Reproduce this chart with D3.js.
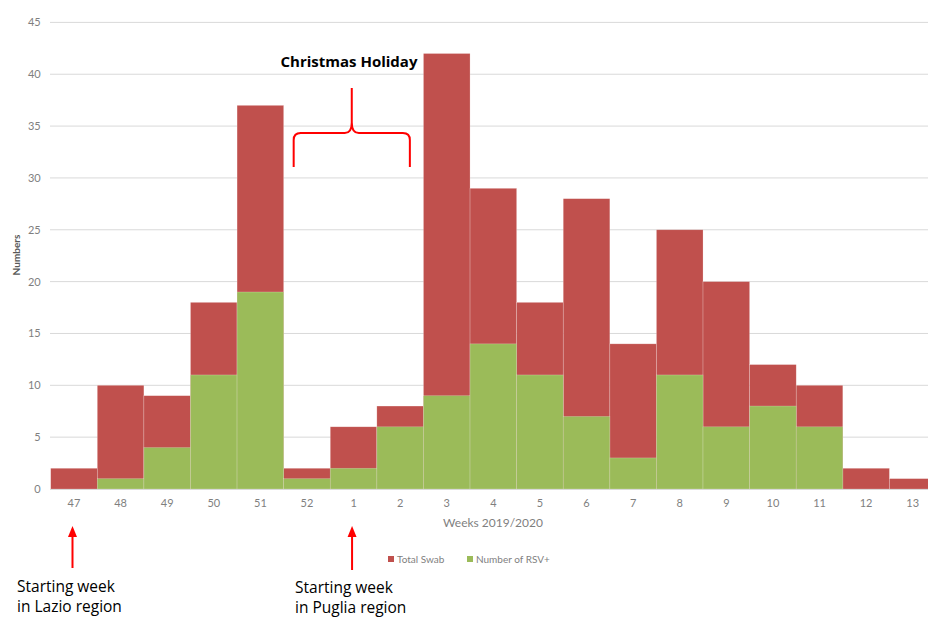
<!DOCTYPE html>
<html>
<head>
<meta charset="utf-8">
<script src="https://cdn.jsdelivr.net/npm/d3@7"></script>
<style>
  html, body { margin: 0; padding: 0; background: #fff; }
  svg { display: block; font-family: Lato, "Open Sans", sans-serif; }
</style>
</head>
<body>
<svg id="chart" width="928" height="617"></svg>
<script>
// Weekly swabs, season 2019/2020
const weeks = ["47", "48", "49", "50", "51", "52", "1", "2", "3", "4", "5", "6", "7", "8", "9", "10", "11", "12", "13"];
const totalSwab = [2, 10, 9, 18, 37, 2, 6, 8, 42, 29, 18, 28, 14, 25, 20, 12, 10, 2, 1];
const rsvPositive = [0, 1, 4, 11, 19, 1, 2, 6, 9, 14, 11, 7, 3, 11, 6, 8, 6, 0, 0];
const yTicks = [0, 5, 10, 15, 20, 25, 30, 35, 40, 45];
const seriesNames = ["Total Swab", "Number of RSV+"];

const colors = { total: "#C0504D", rsv: "#9BBB59" };

const svg = d3.select("#chart");
const plotLeft = 50.7, plotRight = 936, plotTop = 22.4, plotBottom = 489;

const x = d3.scaleBand().domain(weeks).range([plotLeft, plotRight]).padding(0);
const y = d3.scaleLinear().domain([0, 45]).range([plotBottom, plotTop]);

// gridlines
svg.append("g")
  .selectAll("line")
  .data(yTicks.filter(d => d > 0))
  .join("line")
  .attr("x1", 50).attr("x2", 928)
  .attr("y1", d => y(d)).attr("y2", d => y(d))
  .attr("stroke", "#d9d9d9").attr("stroke-width", 1);

// total swab bars
svg.append("g")
  .selectAll("rect")
  .data(weeks.map((w, i) => ({ w, v: totalSwab[i] })))
  .join("rect")
  .attr("x", d => x(d.w))
  .attr("width", x.bandwidth())
  .attr("y", d => y(d.v))
  .attr("height", d => y(0) - y(d.v))
  .attr("fill", colors.total)
  .attr("stroke", "#ffffff").attr("stroke-opacity", 0.35).attr("stroke-width", 0.6);

// RSV+ bars drawn over the totals
svg.append("g")
  .selectAll("rect")
  .data(weeks.map((w, i) => ({ w, v: rsvPositive[i] })).filter(d => d.v > 0))
  .join("rect")
  .attr("x", d => x(d.w))
  .attr("width", x.bandwidth())
  .attr("y", d => y(d.v))
  .attr("height", d => y(0) - y(d.v))
  .attr("fill", colors.rsv)
  .attr("stroke", "#ffffff").attr("stroke-opacity", 0.35).attr("stroke-width", 0.6);

// baseline
svg.append("line")
  .attr("x1", 50).attr("x2", 928)
  .attr("y1", y(0) + 0.5).attr("y2", y(0) + 0.5)
  .attr("stroke", "#d9d9d9").attr("stroke-width", 1);

// y axis
const yAxis = svg.append("g")
  .attr("transform", `translate(${plotLeft},0)`)
  .call(d3.axisLeft(y).tickValues(yTicks).tickSize(0).tickPadding(10));
yAxis.select(".domain").remove();
yAxis.selectAll("text")
  .attr("fill", "#7f7f7f").attr("font-size", 11).attr("font-family", "Lato, sans-serif");

// x axis
const xAxis = svg.append("g")
  .attr("transform", `translate(0,${plotBottom})`)
  .call(d3.axisBottom(x).tickSize(0).tickPadding(10));
xAxis.select(".domain").remove();
xAxis.selectAll("text")
  .attr("fill", "#7f7f7f").attr("font-size", 11).attr("font-family", "Lato, sans-serif");

// axis titles
svg.append("text")
  .attr("x", 493).attr("y", 527)
  .attr("text-anchor", "middle")
  .attr("fill", "#7f7f7f").attr("font-size", 12)
  .text("Weeks 2019/2020");

svg.append("text")
  .attr("transform", "translate(20,255) rotate(-90)")
  .attr("text-anchor", "middle")
  .attr("fill", "#595959").attr("font-size", 10).attr("font-weight", "bold")
  .text("Numbers");

// legend
const legend = svg.append("g").attr("font-size", 10).attr("fill", "#7f7f7f");
const legendItems = [
  { name: seriesNames[0], color: colors.total, x: 388 },
  { name: seriesNames[1], color: colors.rsv, x: 467 }
];
legendItems.forEach(d => {
  legend.append("rect").attr("x", d.x).attr("y", 556).attr("width", 6).attr("height", 6).attr("fill", d.color);
  legend.append("text").attr("x", d.x + 9).attr("y", 563).attr("fill", "#7f7f7f").text(d.name);
});

// Christmas holiday brace
const bx0 = x("52") + 10, bx1 = x("2") + 33, bmid = (bx0 + bx1) / 2;
const braceY = 133, braceBottom = 167, braceTip = 88, r = 7;
const brace = d3.path();
brace.moveTo(bx0, braceBottom);
brace.lineTo(bx0, braceY + r);
brace.quadraticCurveTo(bx0, braceY, bx0 + r, braceY);
brace.lineTo(bmid - r, braceY);
brace.quadraticCurveTo(bmid, braceY, bmid, braceY - r * 1.5);
brace.lineTo(bmid, braceTip);
brace.moveTo(bmid, braceY - r * 1.5);
brace.quadraticCurveTo(bmid, braceY, bmid + r, braceY);
brace.lineTo(bx1 - r, braceY);
brace.quadraticCurveTo(bx1, braceY, bx1, braceY + r);
brace.lineTo(bx1, braceBottom);
svg.append("path")
  .attr("d", brace.toString())
  .attr("fill", "none").attr("stroke", "#ff0000").attr("stroke-width", 2);

svg.append("text")
  .attr("x", 349).attr("y", 67)
  .attr("text-anchor", "middle")
  .attr("font-family", "'Open Sans', sans-serif")
  .attr("font-size", 15).attr("font-weight", "bold").attr("fill", "#000")
  .text("Christmas Holiday");

// starting-week arrows and notes
const notes = [
  { week: "47", lines: ["Starting week", "in Lazio region"], tx: 17, ty: 592, bottomY: 568 },
  { week: "1", lines: ["Starting week", "in Puglia region"], tx: 295, ty: 593, bottomY: 570 }
];
notes.forEach(n => {
  const cx = x(n.week) + x.bandwidth() / 2 - 1.5;
  svg.append("line")
    .attr("x1", cx).attr("x2", cx)
    .attr("y1", n.bottomY).attr("y2", 535)
    .attr("stroke", "#ff0000").attr("stroke-width", 2);
  svg.append("path")
    .attr("d", `M${cx - 4.5},537 L${cx},526 L${cx + 4.5},537 Z`)
    .attr("fill", "#ff0000");
  const t = svg.append("text")
    .attr("font-family", "'Open Sans', sans-serif")
    .attr("font-size", 15.5).attr("fill", "#000");
  n.lines.forEach((line, i) => {
    t.append("tspan").attr("x", n.tx).attr("y", n.ty + i * 20).text(line);
  });
});
</script>
</body>
</html>
